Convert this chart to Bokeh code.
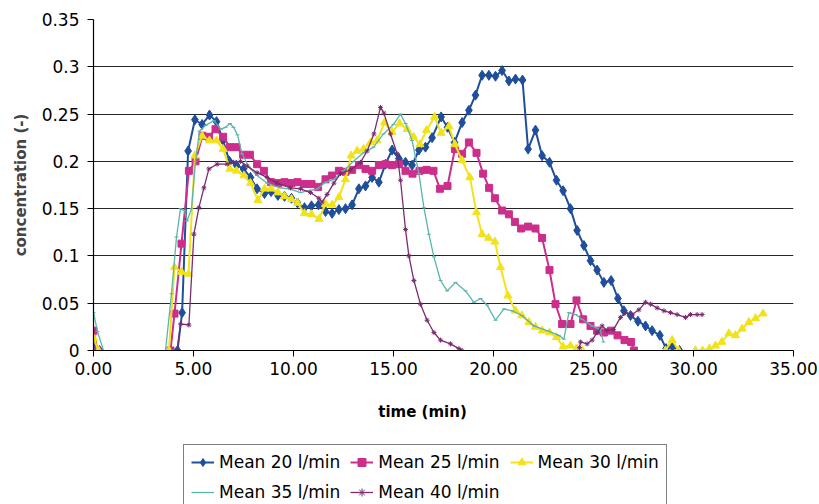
import numpy as np
from bokeh.plotting import figure
from bokeh.layouts import column
from bokeh.models import Range1d, FixedTicker, Legend, LegendItem, Label
from bokeh.embed import file_html
from bokeh.resources import INLINE

nan = np.nan

# Mean 20 l/min
t20 = [0.0, 0.3, nan, 4.2, 4.43, 4.73, 5.07, 5.43, 5.8, 6.15, 6.48, 6.8, 7.15, 7.5, 7.85, 8.18, 8.55, 8.88,
       9.22, 9.55, 9.9, 10.2, 10.55, 10.9, 11.25, 11.6, 11.93, 12.27, 12.6, 12.93, 13.27, 13.6, 13.93, 14.27,
       14.6, 14.93, 15.27, 15.6, 15.93, 16.27, 16.6, 16.93, 17.38, 17.7, 18.05, 18.43, 18.77, 19.1, 19.43,
       19.77, 20.1, 20.43, 20.77, 21.1, 21.45, 21.73, 22.1, 22.43, 22.8, 23.15, 23.48, 23.85, 24.18, 24.52,
       24.85, 25.18, 25.52, 25.88, 26.22, 26.52, 26.85, 27.22, 27.6, 27.93, 28.32, 28.63, 28.95, 29.3]
c20 = [0.005, 0.0, nan, 0.0, 0.040, 0.211, 0.244, 0.239, 0.249, 0.242, 0.222, 0.200, 0.196, 0.192, 0.183, 0.171,
       0.166, 0.168, 0.164, 0.163, 0.161, 0.156, 0.151, 0.153, 0.154, 0.147, 0.145, 0.149, 0.150, 0.154, 0.171,
       0.174, 0.183, 0.178, 0.197, 0.212, 0.203, 0.199, 0.196, 0.212, 0.215, 0.225, 0.247, 0.236, 0.220, 0.241,
       0.254, 0.270, 0.291, 0.291, 0.290, 0.296, 0.285, 0.287, 0.286, 0.213, 0.233, 0.206, 0.199, 0.180, 0.169,
       0.150, 0.127, 0.111, 0.095, 0.085, 0.072, 0.074, 0.055, 0.042, 0.037, 0.031, 0.026, 0.021, 0.016, 0.002,
       0.004, 0.0]

# Mean 25 l/min
t25 = [0.0, 0.2, nan, 3.85, 4.05, 4.4, 4.77, 5.1, 5.45, 5.78, 6.1, 6.48, 6.82, 7.15, 7.48, 7.82, 8.18, 8.52, 8.88,
       9.22, 9.55, 9.9, 10.2, 10.55, 10.9, 11.23, 11.6, 11.93, 12.27, 12.6, 12.93, 13.27, 13.6, 13.93, 14.27,
       14.6, 14.93, 15.27, 15.6, 15.95, 16.3, 16.65, 17.0, 17.32, 17.7, 18.07, 18.43, 18.77, 19.15, 19.48, 19.78,
       20.07, 20.43, 20.77, 21.07, 21.38, 21.73, 22.1, 22.43, 22.8, 23.1, 23.43, 23.85, 24.15, 24.48, 24.85,
       25.18, 25.52, 25.88, 26.2, 26.55, 26.88, 27.02]
c25 = [0.021, 0.0, nan, 0.0, 0.039, 0.113, 0.190, 0.200, 0.227, 0.226, 0.234, 0.226, 0.215, 0.215, 0.207, 0.207,
       0.197, 0.190, 0.178, 0.177, 0.178, 0.177, 0.178, 0.176, 0.176, 0.173, 0.181, 0.185, 0.190, 0.189, 0.191,
       0.196, 0.192, 0.190, 0.196, 0.197, 0.196, 0.197, 0.190, 0.187, 0.190, 0.191, 0.190, 0.171, 0.174, 0.213,
       0.208, 0.220, 0.209, 0.187, 0.172, 0.161, 0.148, 0.144, 0.136, 0.129, 0.131, 0.129, 0.119, 0.085, 0.049,
       0.028, 0.028, 0.053, 0.033, 0.026, 0.021, 0.019, 0.021, 0.016, 0.011, 0.009, 0.0]

# Mean 30 l/min
t30 = [0.0, 0.25, nan, 3.77, 4.05, 4.4, 4.75, 5.07, 5.43, 5.8, 6.15, 6.48, 6.82, 7.15, 7.52, 7.85, 8.22, 8.55,
       8.88, 9.22, 9.55, 9.9, 10.2, 10.55, 10.9, 11.28, 11.6, 11.93, 12.27, 12.6, 12.88, 13.18, 13.5, 13.85,
       14.18, 14.55, 14.93, 15.3, 15.68, 16.0, 16.32, 16.65, 17.05, 17.38, 17.77, 18.07, 18.43, 18.82, 19.15,
       19.43, 19.75, 20.07, 20.35, 20.72, 21.1, 21.42, 21.77, 22.1, 22.43, 22.8, 23.15, 23.48, 23.85, 24.15,
       24.45, nan, 28.6, 28.93, 29.25, nan, 30.1, 30.45, 30.8, 31.1, 31.42, 31.77, 32.1, 32.43, 32.77, 33.1, 33.48]
c30 = [0.013, 0.0, nan, 0.0, 0.088, 0.083, 0.081, 0.206, 0.227, 0.222, 0.222, 0.213, 0.192, 0.190, 0.185, 0.177,
       0.159, 0.171, 0.171, 0.167, 0.163, 0.160, 0.156, 0.145, 0.144, 0.139, 0.155, 0.154, 0.162, 0.181, 0.206,
       0.211, 0.213, 0.220, 0.222, 0.241, 0.231, 0.240, 0.234, 0.226, 0.218, 0.233, 0.247, 0.230, 0.237, 0.218,
       0.201, 0.183, 0.146, 0.123, 0.119, 0.115, 0.088, 0.058, 0.042, 0.037, 0.030, 0.025, 0.021, 0.019, 0.014,
       0.004, 0.005, 0.002, 0.0, nan, 0.0, 0.011, 0.0, nan, 0.0, 0.0, 0.002, 0.005, 0.009, 0.018, 0.016, 0.023,
       0.030, 0.034, 0.039]

# Mean 35 l/min
t35 = [0.0, 0.2, 0.5, nan, 3.6, 3.9, 4.15, 4.35, 4.55, 4.68, 4.9, 5.1, 5.3, 5.6, 6.02, 6.37, 6.6, 6.82, 7.0, 7.2,
       7.43, 7.77, 8.18, 8.67, 9.35, 9.8, 10.35, 10.72, 11.2, 11.6, 12.03, 12.5, 13.0, 13.5, 14.0, 14.5, 15.0,
       15.35, 15.6, 15.93, 16.27, 16.52, 16.77, 17.02, 17.35, 17.68, 18.1, 18.6, 19.02, 19.35, 19.68, 20.1,
       20.52, 20.93, 21.42, 22.02, 22.68, 23.27, 23.52, 23.77, 24.1, 24.43, 24.92, 25.33, 25.5]
c35 = [0.040, 0.020, 0.0, nan, 0.0, 0.060, 0.120, 0.150, 0.148, 0.137, 0.150, 0.200, 0.232, 0.238, 0.243, 0.234,
       0.236, 0.240, 0.236, 0.228, 0.208, 0.194, 0.185, 0.177, 0.172, 0.171, 0.167, 0.169, 0.171, 0.178, 0.181,
       0.190, 0.200, 0.209, 0.215, 0.229, 0.239, 0.250, 0.240, 0.222, 0.187, 0.151, 0.123, 0.099, 0.074, 0.063,
       0.072, 0.063, 0.051, 0.055, 0.048, 0.032, 0.044, 0.042, 0.037, 0.026, 0.021, 0.016, 0.012, 0.040, 0.038,
       0.033, 0.026, 0.022, 0.009]

# Mean 40 l/min
t40 = [4.18, 4.35, 4.77, 5.02, 5.27, 5.52, 5.77, 6.18, 6.68, 7.0, 7.35, 7.68, 8.18, 8.68, 9.18, 9.85, 10.35,
       10.85, 11.27, 11.43, 11.68, 12.02, 12.35, 12.85, 13.35, 13.68, 14.02, 14.35, 14.52, 14.85, 15.18, 15.35,
       15.6, 15.77, 16.02, 16.35, 16.68, 17.02, 17.35, 17.85, 18.27, 18.43, nan, 24.3, 24.35, 24.68, 24.93,
       25.18, 25.43, 25.68, 26.0, 26.35, 26.6, 26.93, 27.27, 27.6, 27.85, 28.18, 28.52, 28.85, 29.18, 29.6,
       29.85, 30.18, 30.43]
c40 = [0.0, 0.028, 0.027, 0.123, 0.151, 0.172, 0.192, 0.197, 0.197, 0.199, 0.200, 0.195, 0.188, 0.183, 0.177,
       0.172, 0.171, 0.167, 0.161, 0.157, 0.165, 0.177, 0.187, 0.191, 0.199, 0.211, 0.229, 0.257, 0.251, 0.229,
       0.208, 0.180, 0.128, 0.100, 0.074, 0.049, 0.032, 0.019, 0.011, 0.007, 0.002, 0.0, nan, 0.003, 0.009,
       0.007, 0.011, 0.019, 0.026, 0.021, 0.022, 0.035, 0.040, 0.038, 0.043, 0.051, 0.049, 0.045, 0.042, 0.040,
       0.038, 0.035, 0.038, 0.038, 0.038]

labels = ["Mean 20 l/min", "Mean 25 l/min", "Mean 30 l/min", "Mean 35 l/min", "Mean 40 l/min"]
x_ticks = [0, 5, 10, 15, 20, 25, 30, 35]
y_ticks = [0, 0.05, 0.1, 0.15, 0.2, 0.25, 0.3, 0.35]
y_tick_labels = ["0", "0.05", "0.1", "0.15", "0.2", "0.25", "0.3", "0.35"]

FONT = "DejaVu Sans"

p = figure(width=819, height=385, output_backend="svg", toolbar_location=None,
           x_range=Range1d(0, 35), y_range=Range1d(0, 0.35),
           min_border_left=93, min_border_right=26, min_border_top=19, min_border_bottom=35)
p.outline_line_color = None
p.background_fill_color = "white"
p.border_fill_color = "white"

p.xgrid.grid_line_color = None
p.ygrid.grid_line_color = "#262626"
p.ygrid.grid_line_width = 1.2
p.ygrid.ticker = FixedTicker(ticks=y_ticks)

p.xaxis.ticker = FixedTicker(ticks=x_ticks)
p.xaxis.major_label_overrides = {t: f"{t:.2f}" for t in x_ticks}
p.yaxis.ticker = FixedTicker(ticks=y_ticks)
p.yaxis.major_label_overrides = {t: s for t, s in zip(y_ticks, y_tick_labels)}

for ax in (p.xaxis[0], p.yaxis[0]):
    ax.axis_line_color = "black"
    ax.axis_line_width = 1.2
    ax.major_tick_line_color = "black"
    ax.major_tick_out = 6
    ax.major_tick_in = 0
    ax.minor_tick_line_color = None
    ax.major_label_text_font = FONT
    ax.major_label_text_font_size = "17px"
    ax.major_label_text_color = "black"
p.xaxis.major_label_standoff = 5
p.yaxis.major_label_standoff = 8
p.yaxis.axis_label = "concentration (-)"
p.yaxis.axis_label_text_font = FONT
p.yaxis.axis_label_text_font_style = "bold"
p.yaxis.axis_label_text_font_size = "15px"
p.yaxis.axis_label_standoff = 9

series = [
    (t20, c20, "#1f4e9a", "diamond", 10, 2.0),
    (t25, c25, "#cc2e8c", "square", 7, 2.0),
    (t30, c30, "#f2e21a", "triangle", 8, 2.0),
    (t35, c35, "#5ab4ad", "dash", 4, 1.3),
    (t40, c40, "#7a2c6e", "asterisk", 5, 1.3),
]

for (t, c, col, mk, sz, lw) in series:
    p.line(t, c, line_color=col, line_width=lw)
    p.scatter(t, c, marker=mk, size=sz, fill_color=col, line_color=col)

# strip below the chart: x-axis title and legend
# (legend glyphs come from the same series drawn out of view)
LH = 119
p2 = figure(width=819, height=LH, output_backend="svg", toolbar_location=None,
            x_range=Range1d(1000, 1001), y_range=Range1d(1000, 1001),
            x_axis_type=None, y_axis_type=None, min_border=0)
p2.outline_line_color = None
p2.xgrid.grid_line_color = None
p2.ygrid.grid_line_color = None

p2.add_layout(Label(x=329, y=93, x_units="screen", y_units="screen", text="time (min)",
                    text_align="center", text_baseline="middle", text_font=FONT,
                    text_font_style="bold", text_font_size="15px", text_color="black"))

items = []
for (t, c, col, mk, sz, lw), lab in zip(series, labels):
    r1 = p2.line(t, c, line_color=col, line_width=lw)
    r2 = p2.scatter(t, c, marker=mk, size=sz, fill_color=col, line_color=col)
    items.append(LegendItem(label=lab, renderers=[r1, r2]))

legend = Legend(items=items, orientation="horizontal", ncols=3,
                location=(90, -6),
                label_text_font=FONT, label_text_font_size="17px", label_text_color="black",
                glyph_width=23, glyph_height=20, label_height=20, label_standoff=5,
                spacing=10, padding=7, margin=0,
                border_line_color="black", border_line_width=1,
                background_fill_color="white", background_fill_alpha=1)
p2.add_layout(legend, "center")

layout = column(p, p2, spacing=0)
open("out.html", "w").write(file_html(layout, INLINE))
